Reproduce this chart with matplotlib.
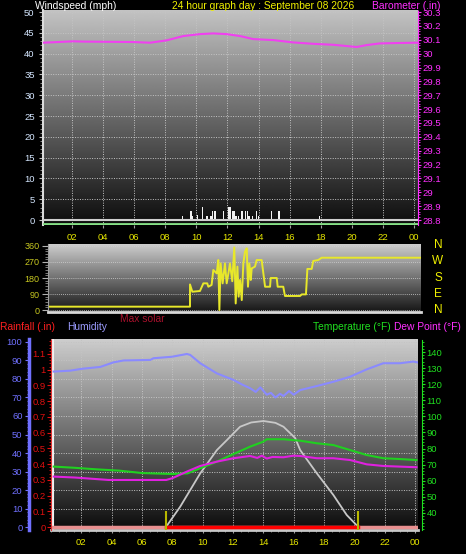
import numpy as np
import matplotlib.pyplot as plt

plt.rcParams['font.family'] = ['Liberation Sans', 'DejaVu Sans']

# ---- data ----
hour_ticks = [2, 4, 6, 8, 10, 12, 14, 16, 18, 20, 22, 24]
hour_labels = ['02', '04', '06', '08', '10', '12', '14', '16', '18', '20', '22', '00']

wind_hours = [9.12, 9.65, 9.76, 10.08, 10.41, 10.68, 10.94, 11.05, 11.2, 11.76, 12.08,
              12.16, 12.31, 12.42, 12.55, 12.7, 12.94, 13.17, 13.3, 13.4, 13.6, 13.88,
              13.98, 14.84, 15.33, 17.91]
wind_speed = [1.0, 2.2, 1.0, 1.2, 3.1, 1.0, 1.0, 2.2, 2.2, 2.2, 3.1,
              3.1, 2.2, 2.2, 1.0, 1.0, 2.2, 2.2, 2.2, 1.0, 1.0, 2.2,
              1.0, 2.2, 2.2, 1.0]

baro_hours = [0.13, 2.08, 2.73, 5.94, 7.02, 8.09, 9.16, 10.23, 11.09, 11.95, 12.81,
              13.66, 14.95, 16.24, 17.52, 18.81, 19.67, 20.31, 20.96, 21.81, 23.1, 24.2]
baro_inhg = [30.079, 30.089, 30.087, 30.084, 30.079, 30.096, 30.127, 30.141, 30.146,
             30.141, 30.127, 30.105, 30.098, 30.081, 30.071, 30.064, 30.055, 30.048,
             30.062, 30.074, 30.077, 30.079]

dir_hours = [0.585, 9.59, 9.59, 9.74, 10.23, 10.45, 10.7, 10.77, 10.98, 11.09, 11.31,
             11.41, 11.48, 11.56, 11.69, 11.84, 11.95, 12.06, 12.16, 12.31, 12.44,
             12.53, 12.64, 12.72, 12.81, 12.92, 13.02, 13.13, 13.24, 13.32, 13.41,
             13.5, 13.56, 13.77, 13.88, 14.2, 14.31, 14.42, 14.74, 14.78, 15.17,
             15.23, 15.59, 15.7, 16.67, 16.78, 17.05, 17.14, 17.42, 17.52, 17.84,
             18.06, 24.45]
dir_deg = [19, 19, 144, 103, 107, 150, 150, 131, 141, 225, 206,
           281, 0, 262, 150, 262, 150, 206, 262, 162, 352,
           37, 244, 75, 169, 56, 262, 328, 347, 131, 262,
           169, 234, 244, 281, 281, 206, 131, 131, 180, 180,
           131, 131, 79, 79, 88, 88, 231, 231, 276, 281,
           294, 294]

hum_hours = [0.18, 1.28, 2.04, 3.25, 4.13, 4.79, 6.55, 6.76, 7.97, 8.96, 9.18, 9.84,
             10.94, 12.03, 12.6, 13.13, 13.5, 13.8, 14.23, 14.5, 14.8, 15.1, 15.33,
             15.7, 16.0, 16.43, 17.53, 18.62, 19.72, 20.82, 21.91, 23.01, 23.89, 24.15]
hum_pct = [84, 84.5, 85.5, 86.5, 89, 90, 90.3, 91.2, 92, 93.5, 93, 88.5,
           83, 79.5, 77, 75, 73, 75.5, 71.5, 72.5, 70, 72, 70.8,
           73.5, 71.5, 74, 76.2, 78.5, 81.2, 85.2, 88.5, 88.5, 89.4, 89]

temp_hours = [0.18, 1.5, 3.0, 4.5, 6.0, 8.0, 9.0, 9.84, 10.94, 12.03, 13.13, 14.0,
              14.23, 15.33, 16.43, 17.53, 18.62, 19.72, 20.82, 21.91, 23.01, 24.1]
temp_f = [68.8, 68.1, 67.1, 66.3, 65.0, 64.2, 64.6, 67.8, 71.9, 76.6, 81.2, 84.3,
          85.8, 85.3, 85.8, 84.9, 83.3, 82.2, 79.1, 76.0, 74.0, 73.5, 72.9][:22]
temp_f = [68.8, 68.1, 67.1, 66.3, 64.8, 64.2, 64.6, 67.8, 71.9, 76.6, 81.2, 84.3,
          85.8, 85.8, 84.9, 83.3, 82.2, 79.1, 76.0, 74.0, 73.5, 72.9]

dew_hours = [0.18, 1.6, 3.8, 7.6, 8.0, 8.96, 9.84, 10.94, 12.03, 13.13, 13.6, 13.9,
             14.23, 14.6, 15.33, 16.0, 16.43, 17.53, 18.62, 19.72, 20.82, 21.91, 24.1]
dew_f = [62.6, 62.0, 60.5, 60.5, 61.6, 65.7, 69.2, 71.9, 74.0, 75.4, 74.2, 75.6,
         73.8, 74.8, 74.6, 75.6, 75.4, 74.0, 74.0, 72.9, 70.2, 69.2, 68.4]

solar_hours = [7.58, 8.52, 9.84, 10.94, 11.6, 12.03, 12.47, 13.2, 14.01, 14.8,
               15.33, 16.1, 16.43, 17.53, 18.62, 19.5, 20.27]
solar_wm2 = [0, 110, 290, 416, 470, 506, 542, 565, 573, 563,
             542, 481, 416, 290, 173, 65, 0]

rain_hours = [0.0, 24.2]
rain_in = [0.0, 0.0]
sunrise, sunset = 7.58, 20.27

# ---- figure ----
W, H = 466, 554
fig = plt.figure(figsize=(W / 100, H / 100), dpi=100, facecolor='black')


def px(x0, y0, x1, y1):
    return [x0 / W, 1 - y1 / H, (x1 - x0) / W, (y1 - y0) / H]


def backdrop(ax, top, bottom):
    g = np.linspace(top, bottom, 256)[:, None]
    ax.imshow(g, cmap='gray', vmin=0, vmax=255, extent=[0, 1, 0, 1],
              transform=ax.transAxes, aspect='auto', zorder=0)


fs = 6.8
grid_kw = dict(color='#c4c4c4', linestyle=(0, (1, 1.5)), linewidth=0.7)

# ---- windspeed / barometer ----
ax1 = fig.add_axes(px(43, 10, 418, 225))
ax1.set_facecolor('black')
backdrop(ax1, 195, 12)
ax1.set_xlim(0.134, 24.26)
ax1.set_ylim(-1.2, 50.5)
ax1.set_xticks(hour_ticks)
ax1.set_xticklabels(hour_labels)
ax1.set_yticks(np.arange(0, 51, 5))
ax1.set_yticks(np.arange(0, 51, 1), minor=True)
ax1.tick_params(axis='y', which='major', colors='#c0c0c0', labelcolor='#d4e6ff',
                labelsize=fs, length=3, pad=3)
ax1.tick_params(axis='y', which='minor', colors='#a0a0a0', length=2)
ax1.tick_params(axis='x', colors='#a0a0a0', labelcolor='#e8e800', labelsize=fs,
                length=2, pad=4)
ax1.grid(True, **grid_kw)
for s in ['top', 'bottom']:
    ax1.spines[s].set_visible(False)
ax1.spines['left'].set_color('#dcdcdc')
ax1.spines['left'].set_linewidth(1.5)
ax1.spines['right'].set_visible(False)
ax1.bar(wind_hours, wind_speed, width=0.09, color='#f2f2f2', zorder=3)
ax1.axhline(0, color='#cfcfcf', lw=1.5, zorder=3)
ax1.axhline(-0.95, color='#86e086', lw=2, zorder=3)

ax1b = ax1.twinx()
ax1b.set_ylim(28.764, 30.315)
baro_ticks = np.round(np.arange(28.8, 30.31, 0.1), 1)
ax1b.set_yticks(baro_ticks)
ax1b.set_yticklabels([f'{v:g}' for v in baro_ticks])
ax1b.set_yticks(np.arange(28.8, 30.31, 0.02), minor=True)
ax1b.tick_params(axis='y', which='major', colors='#ff30ff', labelsize=fs, length=2, pad=1.5)
ax1b.tick_params(axis='y', which='minor', colors='#ff30ff', length=1.5)
for s in ['top', 'bottom', 'left']:
    ax1b.spines[s].set_visible(False)
ax1b.spines['right'].set_color('#ff30ff')
ax1b.spines['right'].set_linestyle((0, (1, 1)))
ax1b.plot(baro_hours, baro_inhg, color='#f040f0', lw=1.5)

fig.text(35 / W, 1 - 6 / H, 'Windspeed (mph)', color='white', fontsize=7.4, va='center')
fig.text(172 / W, 1 - 6 / H, '24 hour graph day : September 08 2026', color='#f0f000',
         fontsize=7.4, va='center')
fig.text(372 / W, 1 - 6 / H, 'Barometer (.in)', color='#ff30ff', fontsize=7.4, va='center')

# ---- wind direction ----
ax2 = fig.add_axes(px(48, 244, 421, 312))
ax2.set_facecolor('black')
backdrop(ax2, 205, 22)
ax2.set_xlim(0.456, 24.45)
ax2.set_ylim(-11, 371)
ax2.set_xticks([])
ax2.set_yticks([0, 90, 180, 270, 360])
ax2.set_yticks(np.arange(0, 361, 15), minor=True)
ax2.tick_params(axis='y', which='major', colors='#b0b0b0', labelcolor='#c8c820',
                labelsize=fs - 0.3, length=4, pad=2)
ax2.tick_params(axis='y', which='minor', colors='#909090', length=2)
ax2.grid(True, axis='y', color='#d0d0d0', linestyle=(0, (1, 1.5)), linewidth=0.6)
for s in ['top', 'right']:
    ax2.spines[s].set_visible(False)
ax2.spines['left'].set_color('#a0a0a0')
ax2.spines['bottom'].set_color('#d8d8d8')
ax2.spines['bottom'].set_linewidth(2)
ax2.plot(dir_hours, dir_deg, color='#e8e82a', lw=1.4, zorder=3)

for lab, yy in zip(['N', 'W', 'S', 'E', 'N'], [245, 261, 278, 294, 310]):
    fig.text(438 / W, 1 - yy / H, lab, color='#f0f000', fontsize=8.5,
             ha='center', va='center')

fig.text(0 / W, 1 - 327 / H, 'Rainfall (.in)', color='#ff2020', fontsize=7.4, va='center')
fig.text(67 / W, 1 - 327 / H, 'Humidity', color='#9c9cff', fontsize=7.4, va='center')
fig.text(120 / W, 1 - 319 / H, 'Max solar', color='#a8102c', fontsize=7.4, va='center')
fig.text(313 / W, 1 - 327 / H, 'Temperature (°F)', color='#20e020', fontsize=7.4, va='center')
fig.text(394 / W, 1 - 327 / H, 'Dew Point (°F)', color='#ff30ff', fontsize=7.4, va='center')

# ---- humidity / rain / temperature / solar ----
ax3 = fig.add_axes(px(51, 339, 418, 530))
ax3.set_facecolor('black')
backdrop(ax3, 205, 12)
ax3.set_xlim(0.024, 24.2)
ax3.set_ylim(-1.6, 101.6)
ax3.set_xticks(hour_ticks)
ax3.set_xticklabels(hour_labels)
ax3.set_xticks(np.arange(0, 24.2, 0.5), minor=True)
ax3.tick_params(axis='x', which='major', colors='#a0a0a0', labelcolor='#e8e800',
                labelsize=fs, length=2, pad=4)
ax3.tick_params(axis='x', which='minor', colors='#909090', length=1.5)
ax3.set_yticks(np.arange(0, 101, 10))
ax3.set_yticks(np.arange(0, 101, 2), minor=True)
ax3.tick_params(axis='y', which='major', colors='#7070ff', labelsize=fs, length=3, pad=1.5)
ax3.tick_params(axis='y', which='minor', colors='#7070ff', length=1.5)
ax3.grid(True, **grid_kw)
ax3.spines['left'].set_position(('outward', 16))
ax3.spines['left'].set_color('#7070ff')
ax3.spines['left'].set_linewidth(2.5)
for s in ['top', 'right']:
    ax3.spines[s].set_visible(False)
ax3.spines['bottom'].set_color('#c8c8c8')
ax3.spines['bottom'].set_linewidth(2)
ax3.axvline(0.15, color='#f0f0f0', lw=1.5, zorder=2)
ax3.plot(hum_hours, hum_pct, color='#8a8aff', lw=1.5, zorder=3)

ax_s = ax3.twinx()
ax_s.set_ylim(-16, 1016)
ax_s.axis('off')
ax_s.plot(solar_hours, solar_wm2, color='#c8c8c8', lw=1.3)

ax_r = ax3.twinx()
ax_r.set_ylim(-0.019, 1.195)
rain_ticks = np.round(np.arange(0, 1.11, 0.1), 1)
ax_r.set_yticks(rain_ticks)
ax_r.set_yticklabels([f'{v:g}' for v in rain_ticks])
ax_r.set_yticks(np.arange(0, 1.2, 0.02), minor=True)
ax_r.yaxis.set_ticks_position('left')
ax_r.yaxis.set_label_position('left')
ax_r.tick_params(axis='y', which='major', colors='#e01010', labelsize=fs, length=3, pad=1)
ax_r.tick_params(axis='y', which='minor', colors='#e01010', length=1.5)
for s in ['top', 'bottom', 'right']:
    ax_r.spines[s].set_visible(False)
ax_r.spines['left'].set_visible(True)
ax_r.spines['left'].set_color('#e03030')
ax_r.spines['left'].set_linestyle((0, (1.5, 1)))
ax_r.plot(rain_hours, rain_in, color='#e89090', lw=2.5)
ax_r.plot([sunrise, sunset], [0, 0], color='#ff0000', lw=2.5)
ax_r.vlines([sunrise, sunset], -0.019, 0.1, color='#b8b800', lw=1.5)

ax_t = ax3.twinx()
ax_t.set_ylim(29.4, 148.1)
ax_t.set_yticks(np.arange(40, 141, 10))
ax_t.set_yticks(np.arange(30, 148, 2), minor=True)
ax_t.tick_params(axis='y', which='major', colors='#20e020', labelsize=fs, length=2, pad=1)
ax_t.tick_params(axis='y', which='minor', colors='#20e020', length=1.2)
for s in ['top', 'bottom', 'left']:
    ax_t.spines[s].set_visible(False)
ax_t.spines['right'].set_position(('outward', 3))
ax_t.spines['right'].set_color('#20e020')
ax_t.spines['right'].set_linestyle((0, (1, 1)))
ax_t.plot(temp_hours, temp_f, color='#20d020', lw=1.5)
ax_t.plot(dew_hours, dew_f, color='#e020e0', lw=1.5)

fig.savefig('out.png', dpi=100, facecolor='black')
